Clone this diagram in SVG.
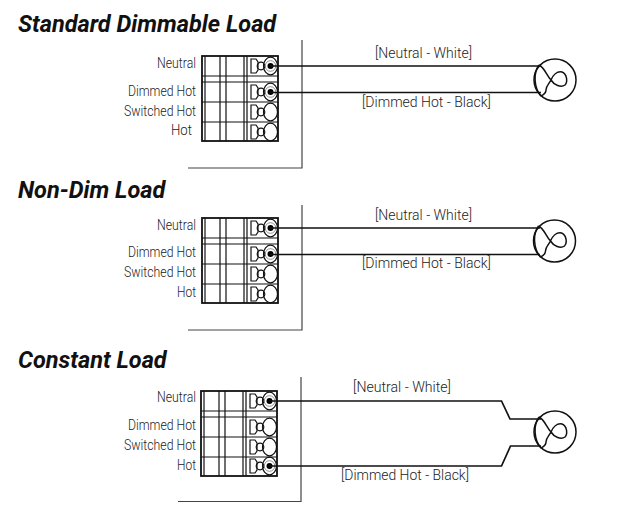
<svg xmlns="http://www.w3.org/2000/svg" width="622" height="509" viewBox="0 0 622 509">
<defs>
<style>
.t{font-family:"Roboto","Liberation Sans",sans-serif;font-size:14px;font-weight:300;fill:#222}
.h{font-family:"Roboto","Liberation Sans",sans-serif;font-size:23.5px;font-weight:700;font-style:italic;fill:#111}
.w{fill:none;stroke:#111;stroke-width:1.7}
.g{fill:none;stroke:#444;stroke-width:1.2}
.b{fill:none;stroke:#111;stroke-width:1.2}
.f{fill:none;stroke:#111;stroke-width:1.5}
</style>
<g id="term"><path class="b" d="M0 -7H5L7 -4V4L5 7H0Z"/><circle class="b" cx="10" cy="0" r="3.800"/><ellipse class="b" cx="19.500" cy="0" rx="7" ry="8.800"/></g>
<g id="live"><use href="#term"/><circle cx="19.500" cy="0" r="5.300" fill="none" stroke="#777" stroke-width=".8"/><circle cx="19.500" cy="0" r="3" fill="#000"/></g>
<g id="block">
<rect x="0" y="0" width="76" height="85" fill="#fff" stroke="#111" stroke-width="1.8"/>
<path class="b" d="M3 0V85M18 0V85M24 0V85M42 0V85M45 0V85M0 20H76M0 26H76M0 46H76M0 66H76"/>
</g>
<g id="lamp"><circle class="f" cx="0" cy="0" r="21"/><path class="f" d="M-16 -15C-22 -7 -21 8 -14 16M-16 -15C-10 -12 -9 -5 -4 0C-1 5 6 8 10 5C13 2 12 -6 7 -8C2 -9 -2 -5 -4 0C-6 4 -9 6 -9 10C-9 13 -12 15 -14 16"/></g>
</defs>

<g id="heading-1"><text class="h" x="18" y="32">Standard Dimmable Load</text></g>
<g id="heading-2"><text class="h" x="18" y="198">Non-Dim Load</text></g>
<g id="heading-3"><text class="h" x="18" y="368">Constant Load</text></g>

<g id="wall-1"><path class="g" d="M302 40V168H188"/></g>
<g id="wall-2"><path class="g" d="M302 205V330H188"/></g>
<g id="wall-3"><path class="g" d="M301 377V501.500H178"/></g>

<g id="block-1">
<use href="#block" x="202" y="56"/>
<use href="#live" x="251" y="66"/><use href="#live" x="251" y="92"/><use href="#term" x="251" y="112"/><use href="#term" x="251" y="132"/>
<text class="t" x="157" y="68" textLength="39" lengthAdjust="spacingAndGlyphs">Neutral</text>
<text class="t" x="128" y="96" textLength="68" lengthAdjust="spacingAndGlyphs">Dimmed Hot</text>
<text class="t" x="124" y="116" textLength="72" lengthAdjust="spacingAndGlyphs">Switched Hot</text>
<text class="t" x="171" y="135" textLength="21" lengthAdjust="spacingAndGlyphs">Hot</text>
</g>
<g id="block-2">
<use href="#block" x="202" y="218"/>
<use href="#live" x="251" y="228"/><use href="#live" x="251" y="254"/><use href="#term" x="251" y="274"/><use href="#term" x="251" y="294"/>
<text class="t" x="157" y="230" textLength="39" lengthAdjust="spacingAndGlyphs">Neutral</text>
<text class="t" x="128" y="257" textLength="68" lengthAdjust="spacingAndGlyphs">Dimmed Hot</text>
<text class="t" x="124" y="277" textLength="72" lengthAdjust="spacingAndGlyphs">Switched Hot</text>
<text class="t" x="177" y="297" textLength="19" lengthAdjust="spacingAndGlyphs">Hot</text>
</g>
<g id="block-3">
<use href="#block" x="201" y="391"/>
<use href="#live" x="250" y="401"/><use href="#term" x="250" y="427"/><use href="#term" x="250" y="447"/><use href="#live" x="250" y="466"/>
<text class="t" x="157" y="402" textLength="39" lengthAdjust="spacingAndGlyphs">Neutral</text>
<text class="t" x="128" y="430" textLength="68" lengthAdjust="spacingAndGlyphs">Dimmed Hot</text>
<text class="t" x="124" y="450" textLength="72" lengthAdjust="spacingAndGlyphs">Switched Hot</text>
<text class="t" x="177" y="470" textLength="19" lengthAdjust="spacingAndGlyphs">Hot</text>
</g>

<g id="connectors">
<path class="w" d="M270 66H541M270 92.500H541"/>
<path class="w" d="M270 228H540M270 254.500H540"/>
<path class="w" d="M269 401H501.500L510 419H541M269 466H501.500L510.500 446H541"/>
</g>

<g id="lamp-1"><use href="#lamp" x="555" y="80"/></g>
<g id="lamp-2"><use href="#lamp" x="554.500" y="241"/></g>
<g id="lamp-3"><use href="#lamp" x="555" y="432"/></g>

<g id="labels">
<text class="t" x="375" y="58" textLength="97" lengthAdjust="spacingAndGlyphs">[Neutral - White]</text>
<text class="t" x="362" y="107" textLength="129" lengthAdjust="spacingAndGlyphs">[Dimmed Hot - Black]</text>
<text class="t" x="375" y="220" textLength="97" lengthAdjust="spacingAndGlyphs">[Neutral - White]</text>
<text class="t" x="362" y="268" textLength="129" lengthAdjust="spacingAndGlyphs">[Dimmed Hot - Black]</text>
<text class="t" x="353" y="392" textLength="98" lengthAdjust="spacingAndGlyphs">[Neutral - White]</text>
<text class="t" x="341" y="480" textLength="128" lengthAdjust="spacingAndGlyphs">[Dimmed Hot - Black]</text>
</g>
</svg>
